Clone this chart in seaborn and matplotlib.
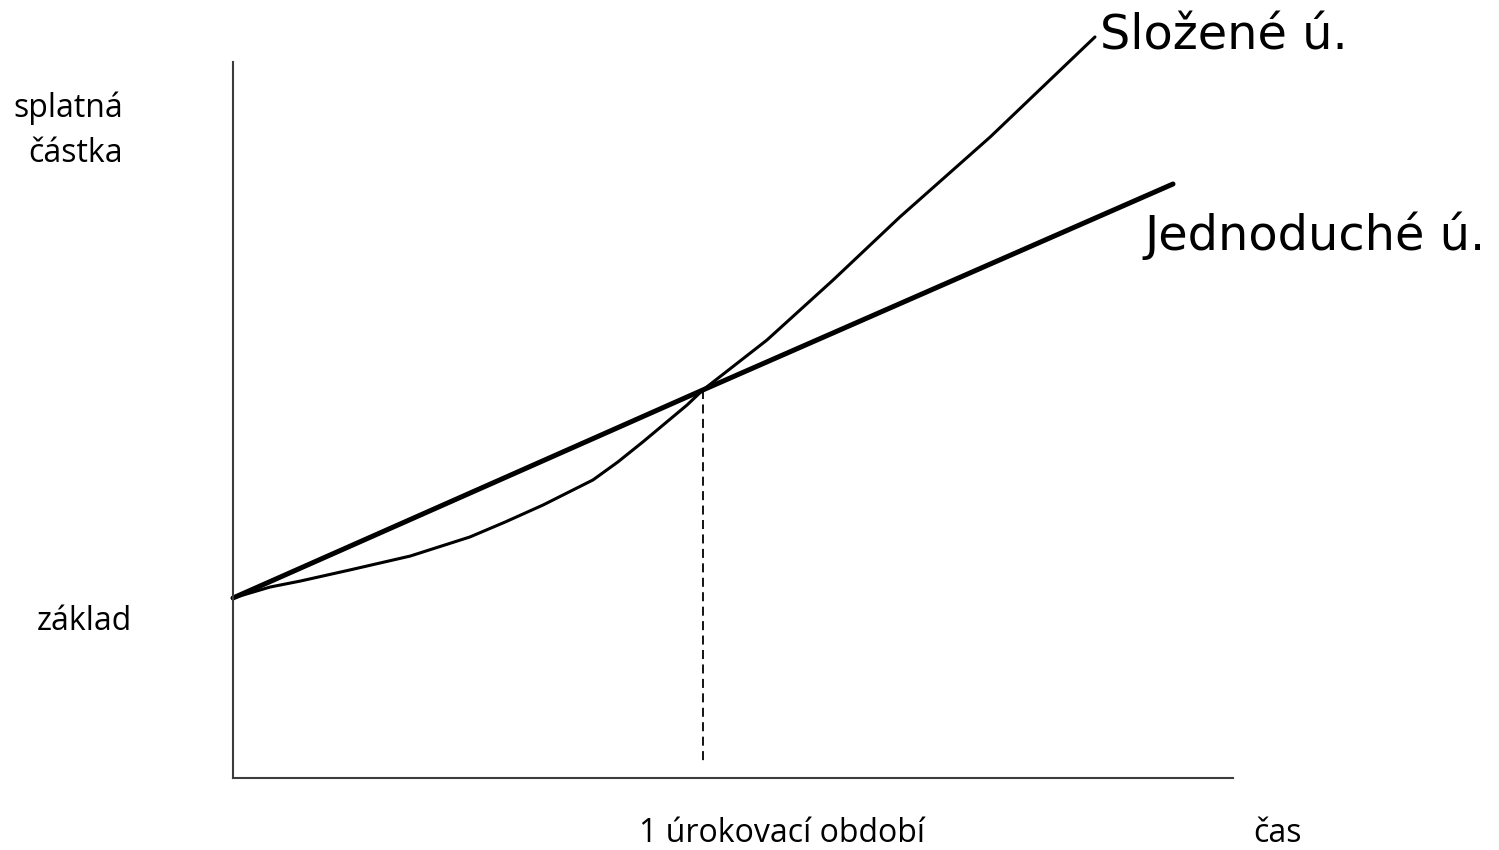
import pandas as pd
import matplotlib.pyplot as plt
import seaborn as sns

# time in interest periods, amount relative to the principal (základ = 1)
simple_t = [0.0, 1.0, 2.0]
simple_amount = [1.0, 2.156, 3.30]

compound_t = [0.0, 0.079, 0.143, 0.249, 0.377, 0.504, 0.579, 0.660, 0.766,
              0.819, 0.872, 0.966, 1.0, 1.136, 1.277, 1.419, 1.611, 1.834]
compound_amount = [1.0, 1.061, 1.094, 1.156, 1.233, 1.339, 1.422, 1.517, 1.656,
                   1.756, 1.867, 2.072, 2.156, 2.433, 2.767, 3.117, 3.561, 4.117]

period_t = [1.0, 1.0]
period_amount = [2.156, 0.072]

simple = pd.DataFrame({'t': simple_t, 'amount': simple_amount})
compound = pd.DataFrame({'t': compound_t, 'amount': compound_amount})

sns.set_style('white')
plt.rcParams['font.family'] = ['Open Sans', 'DejaVu Sans']

fig = plt.figure(figsize=(14.99, 8.5), dpi=100)
ax = fig.add_axes([233 / 1499, 72 / 850, 1000 / 1499, 716 / 850])

sns.lineplot(data=simple, x='t', y='amount', color='black', linewidth=3.6,
             ax=ax, clip_on=False)
sns.lineplot(data=compound, x='t', y='amount', color='black', linewidth=2.2,
             ax=ax, clip_on=False)
ax.plot(period_t, period_amount, color='black', linewidth=1.3,
        linestyle=(0, (5, 3)))

ax.set_xlim(0, 1000 / 470)
ax.set_ylim(0, 716 / 180)
ax.set_xticks([])
ax.set_yticks([])
ax.set_xlabel('')
ax.set_ylabel('')
for side in ['top', 'right']:
    ax.spines[side].set_visible(False)
for side in ['left', 'bottom']:
    ax.spines[side].set_color('#3c3c3c')
    ax.spines[side].set_linewidth(1.5)

label_kw = dict(fontsize=23, color='black', clip_on=False)
ax.text(-0.234, 3.72, 'splatná', ha='right', va='center', **label_kw)
ax.text(-0.234, 3.47, 'částka', ha='right', va='center', **label_kw)
ax.text(-0.317, 0.87, 'základ', ha='center', va='center', **label_kw)
ax.text(1.168, -0.31, '1 úrokovací období', ha='center', va='center', **label_kw)
ax.text(2.223, -0.31, 'čas', ha='center', va='center', **label_kw)

series_kw = dict(fontsize=34.5, color='black', clip_on=False, family='DejaVu Sans')
ax.text(1.845, 4.12, 'Složené ú.', ha='left', va='center', **series_kw)
ax.text(1.94, 3.01, 'Jednoduché ú.', ha='left', va='center', **series_kw)

fig.savefig('out.png', dpi=100)
